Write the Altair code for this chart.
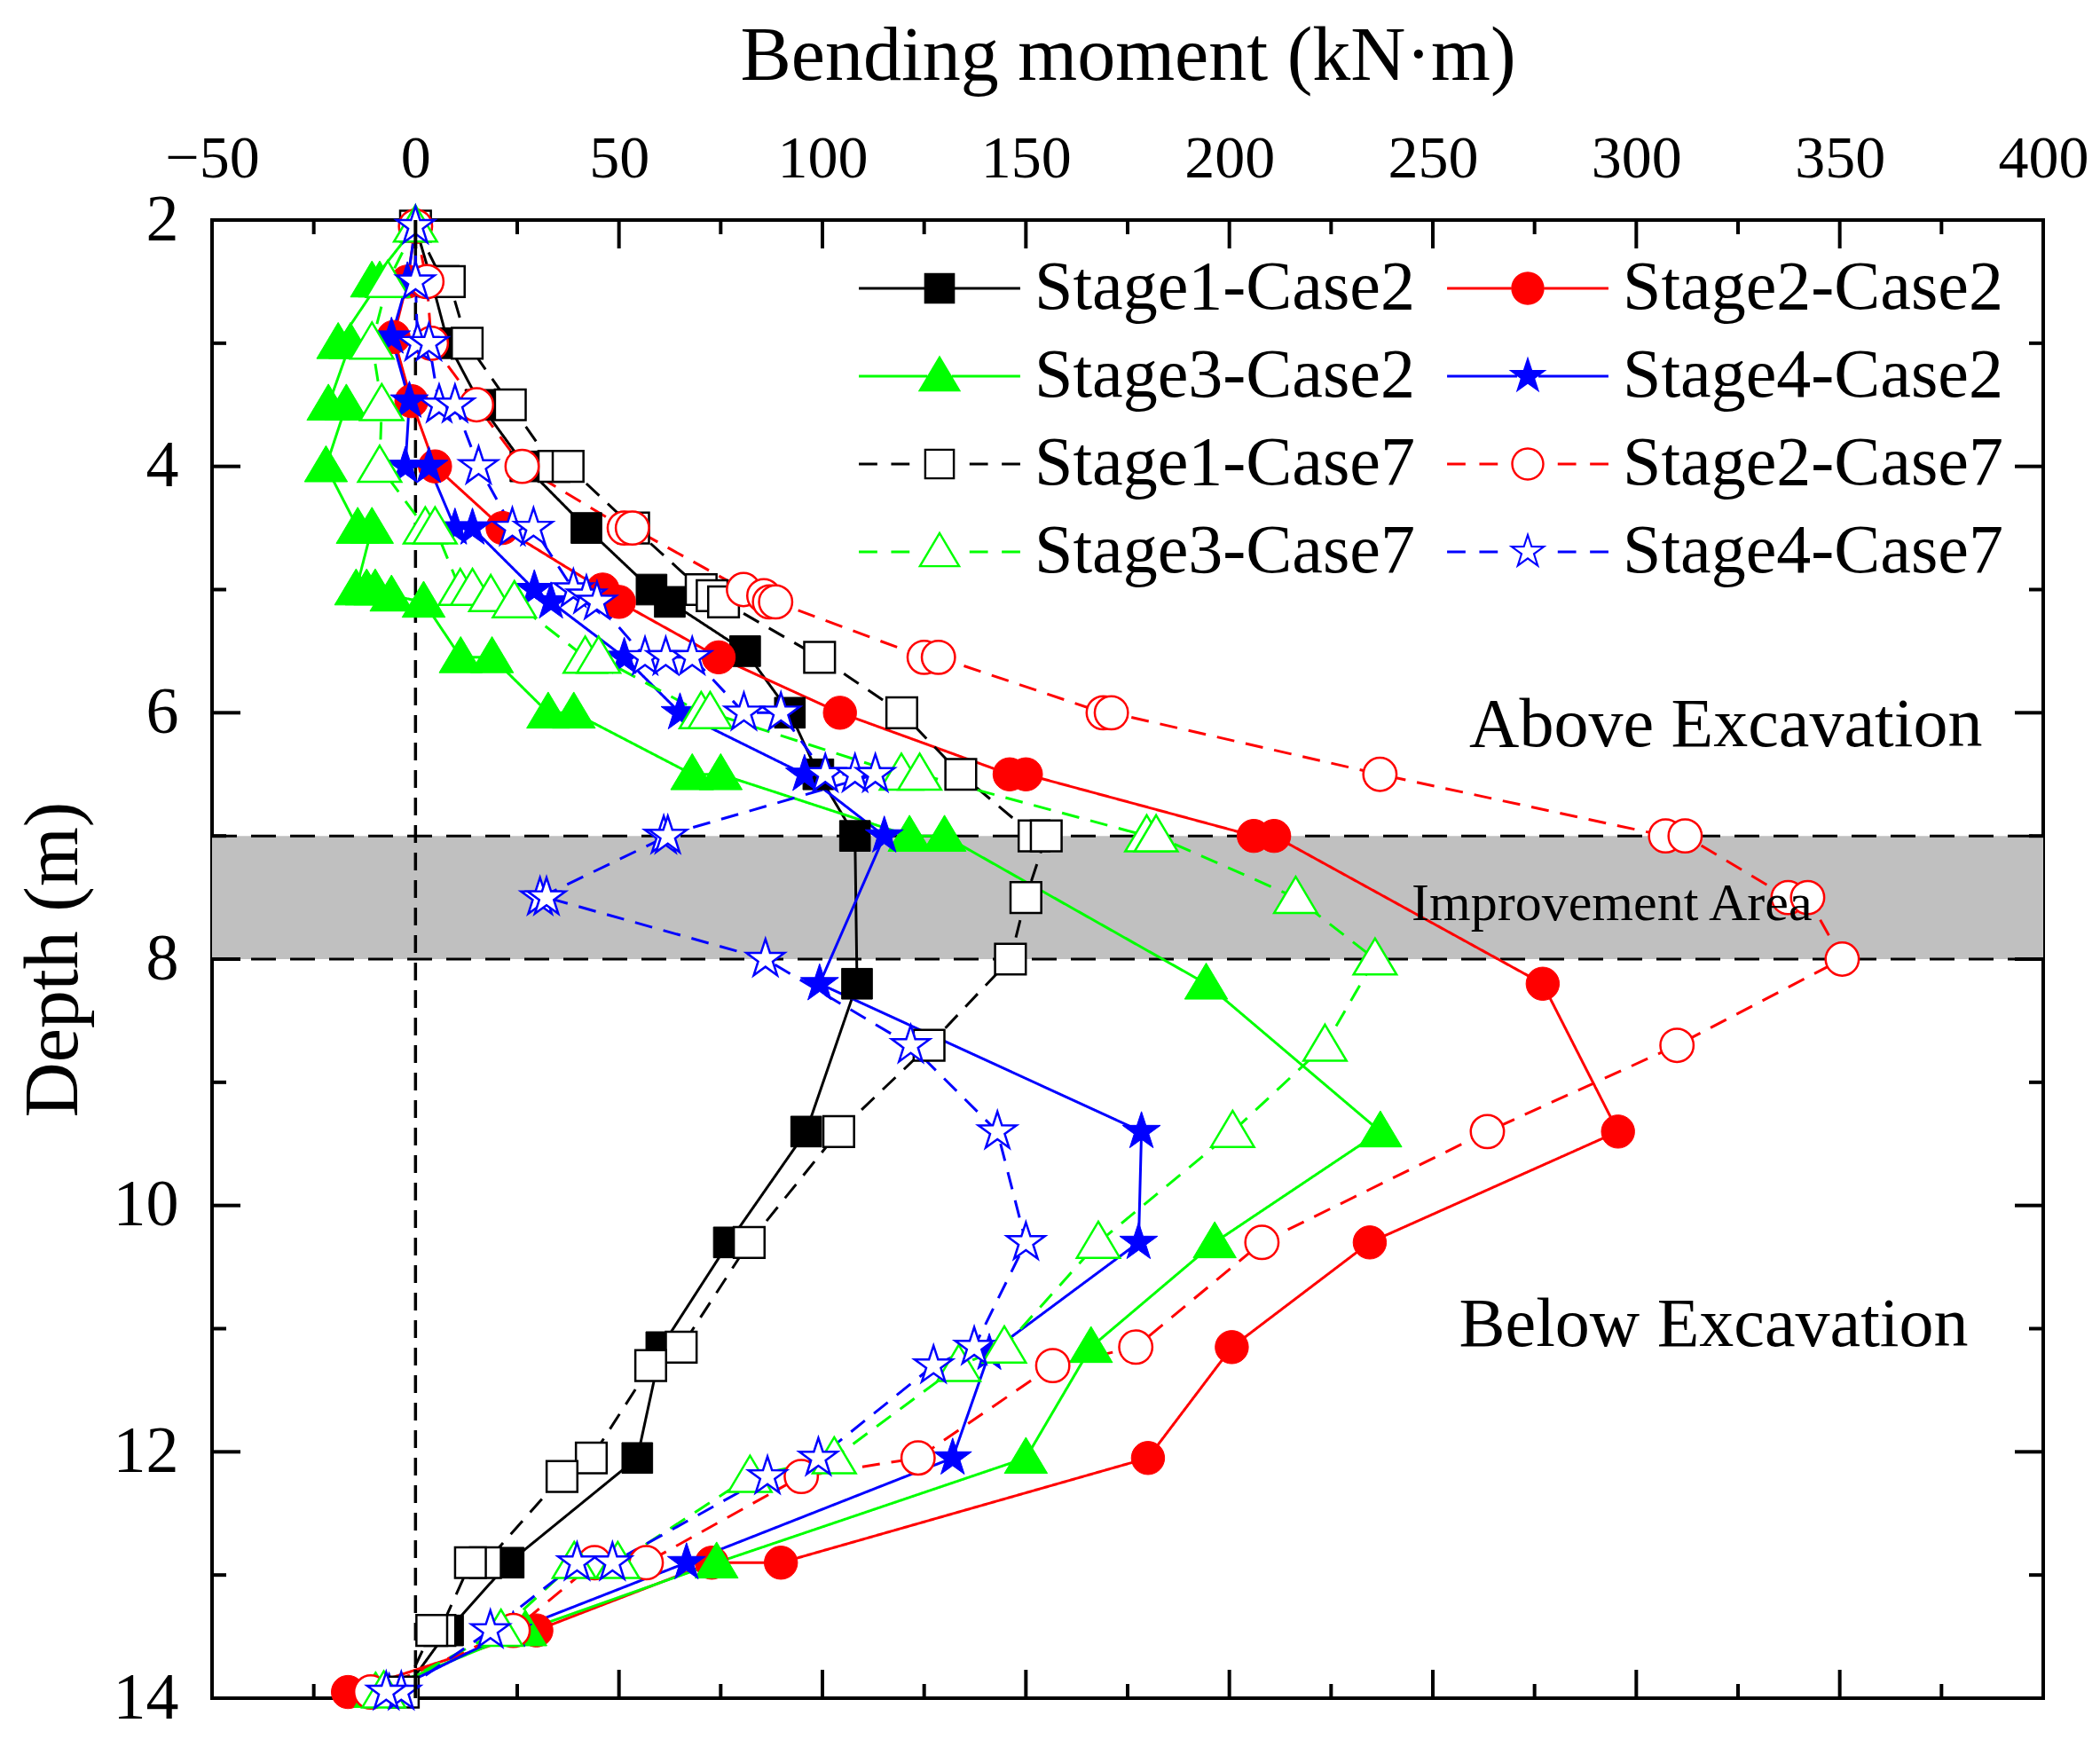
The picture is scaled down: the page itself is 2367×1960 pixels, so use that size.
import math

import altair as alt
import pandas as pd

FONT = "Liberation Serif"
W, H = 2064, 1666

series = ["Stage1-Case2", "Stage2-Case2", "Stage3-Case2", "Stage4-Case2",
          "Stage1-Case7", "Stage2-Case7", "Stage3-Case7", "Stage4-Case7"]
colors = ["#000000", "#ff0000", "#00ff00", "#0000ff",
          "#000000", "#ff0000", "#00ff00", "#0000ff"]

# depth (m) / bending moment (kN·m) from top to bottom
s1c2_depth = [2.05, 2.5, 3.0, 3.5, 4.0, 4.5, 5.0, 5.1, 5.5, 6.0, 6.5, 7.0, 8.2, 9.4,
              10.3, 11.15, 12.05, 12.9, 13.45, 13.95]
s1c2_m = [0, 4, 8, 16, 27, 42, 58, 62.5, 81, 92, 99, 108, 108.5, 96,
          77, 60.4, 54.5, 22.9, 8, -3]

s2c2_depth = [2.05, 2.5, 2.95, 3.47, 4.0, 4.5, 5.0, 5.1, 5.55, 6.0, 6.5, 6.5, 7.0, 7.0,
              8.2, 9.4, 10.3, 11.15, 12.05, 12.9, 12.9, 13.45, 13.95]
s2c2_m = [0, -2, -5.4, -1, 4.8, 21.4, 46, 50, 74.5, 104.3, 146, 150, 206, 211,
          277, 295.5, 234.5, 200.6, 180, 89.8, 72.8, 29.7, -16.6]

s3c2_depth = [2.05, 2.5, 2.5, 3.0, 3.0, 3.5, 3.5, 4.0, 4.5, 4.5, 5.0, 5.0, 5.0, 5.05, 5.1,
              5.55, 5.55, 6.0, 6.0, 6.5, 6.5, 7.0, 7.0, 8.2, 9.4, 10.3, 11.15, 12.05,
              12.9, 13.45, 13.95]
s3c2_m = [0, -10.7, -8.8, -19, -16, -21.4, -17, -22, -14.2, -10.7, -14.6, -12, -9.9, -5.9, 2,
          11.1, 18.8, 32.6, 38.9, 68, 75, 121.4, 130, 194.3, 237.1, 196.4, 166, 150,
          74, 27, -9.8]

s4c2_depth = [2.05, 2.5, 2.95, 3.47, 4.0, 4.0, 4.5, 4.5, 5.0, 5.1, 5.55, 6.0, 6.5, 7.0,
              8.2, 9.4, 10.3, 11.2, 12.05, 12.9, 13.45, 13.95]
s4c2_m = [0, -2, -5.9, -1.5, -2.5, 3.3, 9.7, 14, 29.2, 33.3, 51.3, 65, 95.6, 115.2,
          99.3, 178.4, 177.7, 141, 132, 66.6, 24, -6.5]

s1c7_depth = [2.05, 2.5, 2.5, 3.0, 3.5, 4.0, 4.0, 4.5, 5.0, 5.05, 5.1, 5.55, 6.0, 6.5,
              7.0, 7.0, 7.5, 8.0, 8.7, 9.4, 10.3, 11.15, 11.3, 12.05, 12.2, 12.9, 12.9,
              13.45, 13.45, 13.95]
s1c7_m = [0, 6.8, 8.3, 12.7, 23.3, 34, 37.5, 53.6, 70.2, 72.9, 75.7, 99.3, 119.5, 134,
          152, 155, 150, 146.2, 126.2, 104, 82, 65.3, 57.8, 43.2, 36, 17.2, 13.5,
          6, 4, -3]

s2c7_depth = [2.05, 2.5, 3.0, 3.5, 4.0, 4.5, 4.5, 5.0, 5.05, 5.1, 5.1, 5.55, 5.55, 6.0, 6.0,
              6.5, 7.0, 7.0, 7.5, 7.5, 8.0, 8.7, 9.4, 10.3, 11.15, 11.3, 12.05, 12.2,
              12.9, 12.9, 13.45, 13.95]
s2c7_m = [0, 2.8, 3.9, 15, 26.2, 51.3, 53.3, 80.6, 85.6, 87, 88.5, 125, 128.5, 169, 171,
          237, 307.2, 312, 337.3, 342.1, 350.6, 310, 263.4, 208, 177, 156.6, 123.5, 94.8,
          56.7, 44, 24, -11]

s3c7_depth = [2.05, 2.5, 3.0, 3.5, 4.0, 4.5, 4.5, 5.0, 5.0, 5.05, 5.1, 5.55, 5.55, 6.0, 6.0,
              6.5, 6.5, 7.0, 7.0, 7.5, 8.0, 8.7, 9.4, 10.3, 11.15, 11.3, 12.05, 12.2,
              12.9, 12.9, 13.45, 13.95]
s3c7_m = [0, -6.8, -10.7, -8.3, -8.8, 2.4, 4.8, 11, 14, 18.5, 24.3, 41.7, 45, 70.2, 72.4,
          119.4, 123.9, 179.7, 182, 216.3, 235.8, 223.5, 200.8, 167.8, 144.7, 133.5, 102.9, 82.2,
          49.7, 39, 21, -7.8]

s4c7_depth = [2.05, 2.5, 3.0, 3.0, 3.5, 3.5, 4.0, 4.5, 4.5, 5.0, 5.05, 5.1, 5.55, 5.55, 5.55,
              6.0, 6.0, 6.5, 6.5, 6.5, 7.0, 7.0, 7.5, 7.5, 8.0, 8.7, 9.4, 10.3, 11.15, 11.3,
              12.05, 12.2, 12.9, 12.9, 13.45, 13.95, 13.95]
s4c7_m = [0, 0, 0.5, 3.3, 5.8, 9.7, 15.5, 23.8, 29, 38.8, 42, 44.6, 56.4, 61.5, 68,
          80.7, 89.8, 100.7, 108, 113, 61, 62, 30.6, 32.2, 86, 121.7, 143, 150, 137.3, 127.3,
          99, 86.5, 48.4, 39.7, 18.4, -3.5, -7.2]

depths = [s1c2_depth, s2c2_depth, s3c2_depth, s4c2_depth,
          s1c7_depth, s2c7_depth, s3c7_depth, s4c7_depth]
moments = [s1c2_m, s2c2_m, s3c2_m, s4c2_m, s1c7_m, s2c7_m, s3c7_m, s4c7_m]

x_major = [-50, 0, 50, 100, 150, 200, 250, 300, 350, 400]
x_minor = [-25, 25, 75, 125, 175, 225, 275, 325, 375]
y_major = [2, 4, 6, 8, 10, 12, 14]
y_minor = [3, 5, 7, 9, 11, 13]

band_top = [7.0]
band_bottom = [8.0]

ann_big = ["Above Excavation", "Below Excavation"]
ann_big_m = [322, 319]
ann_big_depth = [6.27, 11.14]
ann_small = ["Improvement Area"]
ann_small_m = [294]
ann_small_depth = [7.68]

rows = []
for s, d_list, m_list in zip(series, depths, moments):
    for i, (d, m) in enumerate(zip(d_list, m_list)):
        rows.append({"series": s, "i": i, "depth": d, "m": m})
df = pd.DataFrame(rows)


# ---- marker shapes (unit paths, Vega scales them by sqrt(size)/2) ----
def poly(pts):
    return "M" + "L".join(f"{x:.3f},{y:.3f}" for x, y in pts) + "Z"


def shrink(pts, cx, cy, k):
    return [(cx + (x - cx) * k, cy + (y - cy) * k) for x, y in reversed(pts)]


def circle(r, sweep):
    return f"M{r},0A{r},{r} 0 1,{sweep} {-r},0A{r},{r} 0 1,{sweep} {r},0Z"


SQ = [(-1, -1), (1, -1), (1, 1), (-1, 1)]
TRI = [(0, -1.35), (1.4, 1.0), (-1.4, 1.0)]
STAR = []
for k in range(10):
    a = math.radians(-90 + 36 * k)
    r = 1.3 if k % 2 == 0 else 0.5
    STAR.append((r * math.cos(a), r * math.sin(a)))

outline = {
    "square": poly(SQ),
    "circle": circle(1.08, 1),
    "triangle": poly(TRI),
    "star": poly(STAR),
}
hollow = {
    "square": poly(SQ) + poly(shrink(SQ, 0, 0, 0.86)),
    "circle": circle(1.08, 1) + circle(0.94, 0),
    "triangle": poly(TRI) + poly(shrink(TRI, 0, 0.204, 0.824)),
    "star": poly(STAR) + poly(shrink(STAR, 0, 0, 0.7)),
}
edge = {"square": 1.0, "circle": 1.08, "triangle": 0.8, "star": 0.69}
stage_shape = ["square", "circle", "triangle", "star"]


def bar(x0, x1):
    return f"M{x0},-0.085H{x1}V0.085H{x0}Z"


def legend_path(shape, filled):
    a = edge[shape]
    if filled:
        line = bar(-5.25, -a) + bar(a, 5.25)
        mk = outline[shape]
    else:
        line = bar(-5.25, -4.05) + bar(-3.15, -1.95) + bar(1.95, 3.15) + bar(4.05, 5.25)
        mk = hollow[shape]
    return mk + line


legend_paths = [legend_path(stage_shape[j % 4], j < 4) for j in range(8)]

xscale = alt.Scale(domain=[-50, 400], nice=False, zero=False)
yscale = alt.Scale(domain=[2, 14], reverse=True, nice=False, zero=False)
xaxis = alt.Axis(orient="top", values=x_major, format="d", title="Bending moment (kN·m)",
                 ticks=False, domain=False, grid=False, labelFlush=False,
                 labelFontSize=68, titleFontSize=86, labelPadding=35, titlePadding=38)
yaxis = alt.Axis(orient="left", values=y_major, format="d", title="Depth (m)",
                 ticks=False, domain=False, grid=False,
                 labelFontSize=74, titleFontSize=86, labelPadding=38, titlePadding=23)


def X(field):
    return alt.X(field, scale=xscale, axis=xaxis)


def Y(field):
    return alt.Y(field, scale=yscale, axis=yaxis)


# ---- background: improvement band, zero line ----
band = alt.Chart(pd.DataFrame({"top": band_top, "bot": band_bottom})).mark_rect(
    color="#c0c0c0").encode(y=Y("top:Q"), y2="bot:Q", x=alt.value(0), x2=alt.value(W))

band_lines = alt.Chart(pd.DataFrame({"v": band_top + band_bottom})).mark_rule(
    color="black", strokeWidth=3, strokeDash=[28, 16]).encode(
    y=Y("v:Q"), x=alt.value(0), x2=alt.value(W))

zero_line = alt.Chart(pd.DataFrame({"v": [0]})).mark_rule(
    color="black", strokeWidth=3.5, strokeDash=[20, 11]).encode(
    x=X("v:Q"), y=alt.value(0), y2=alt.value(H))

# ---- profiles: one line + one marker layer per series ----
lines, points = [], []
for j, s in enumerate(series):
    filled = j < 4
    sub = alt.Chart(df).transform_filter(alt.datum.series == s)
    lines.append(
        sub.mark_line(color=colors[j], strokeWidth=3,
                      strokeDash=[1, 0] if filled else [20, 13]).encode(
            x=X("m:Q"), y=Y("depth:Q"), order="i:Q")
    )
    points.append(
        sub.mark_point(shape=outline[stage_shape[j % 4]], size=1200, filled=True, opacity=1,
                       fill=colors[j] if filled else "white", stroke=colors[j],
                       strokeWidth=1 if filled else 2.5).encode(
            x=X("m:Q"), y=Y("depth:Q"))
    )


# ---- frame ticks (inward) ----
def xticks(vals, y0, y1):
    return alt.Chart(pd.DataFrame({"v": vals})).mark_rule(color="black", strokeWidth=4).encode(
        x=X("v:Q"), y=alt.value(y0), y2=alt.value(y1))


def yticks(vals, x0, x1):
    return alt.Chart(pd.DataFrame({"v": vals})).mark_rule(color="black", strokeWidth=4).encode(
        y=Y("v:Q"), x=alt.value(x0), x2=alt.value(x1))


ticks = [
    xticks(x_major, 0, 32), xticks(x_minor, 0, 16),
    xticks(x_major, H, H - 32), xticks(x_minor, H, H - 16),
    yticks(y_major, 0, 32), yticks(y_minor, 0, 16),
    yticks(y_major, W, W - 32), yticks(y_minor, W, W - 16),
]

# ---- annotations ----
big_text = alt.Chart(pd.DataFrame({"t": ann_big, "m": ann_big_m, "d": ann_big_depth})).mark_text(
    font=FONT, fontSize=78, color="black", align="center", baseline="alphabetic").encode(
    x=X("m:Q"), y=Y("d:Q"), text="t:N")

small_text = alt.Chart(pd.DataFrame({"t": ann_small, "m": ann_small_m, "d": ann_small_depth})).mark_text(
    font=FONT, fontSize=60, color="black", align="center", baseline="alphabetic").encode(
    x=X("m:Q"), y=Y("d:Q"), text="t:N")

# ---- legend (line + marker symbols), filled row by row ----
leg = alt.Legend(title=None, orient="none", legendX=781, legendY=38, columns=2,
                 direction="horizontal", columnPadding=36, rowPadding=21, padding=0,
                 labelFont=FONT, labelFontSize=78, labelColor="black", labelLimit=0,
                 labelOffset=68, symbolSize=1200, symbolStrokeWidth=0)
legend_layer = alt.Chart(df).transform_filter("false").mark_point(filled=True, opacity=1).encode(
    color=alt.Color("series:N", scale=alt.Scale(domain=series, range=colors), legend=leg),
    shape=alt.Shape("series:N", scale=alt.Scale(domain=series, range=legend_paths), legend=leg),
)

chart = alt.layer(
    band, band_lines, zero_line, *lines, *points, *ticks, big_text, small_text, legend_layer
).properties(
    width=W, height=H, padding={"left": 9, "top": 12, "right": 5, "bottom": 5}
).configure_axis(
    labelFont=FONT, titleFont=FONT, labelColor="black", titleColor="black",
    titleFontWeight="normal"
).configure_view(stroke="black", strokeWidth=4)

chart.save("out.html", embed_options={"renderer": "svg", "actions": False})
